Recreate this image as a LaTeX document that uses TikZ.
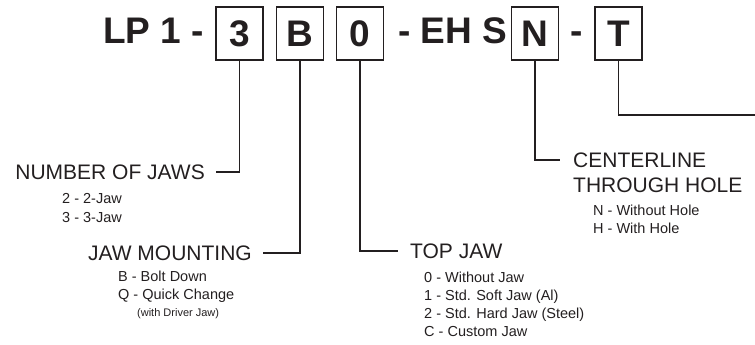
\documentclass[tikz,border=0pt]{standalone}
\usepackage{fontspec}
\setmainfont{Liberation Sans}
\usetikzlibrary{positioning}

\definecolor{ink}{HTML}{231F20}

\tikzset{
  codetext/.style={inner sep=0pt, text=ink, font=\fontsize{37}{40}\selectfont\bfseries},
  codebox/.style={codetext, draw=ink, line width=1.4pt, minimum width=47pt, minimum height=53pt},
  heading/.style={inner sep=0pt, text=ink, font=\fontsize{21}{25}\selectfont},
  option/.style={inner sep=0pt, anchor=base west, text=ink, font=\fontsize{14.5}{17}\selectfont},
  note/.style={option, font=\fontsize{11}{13}\selectfont},
  leader/.style={draw=ink, line width=1.8pt}
}

\begin{document}
\begin{tikzpicture}[x=1pt, y=-1pt]

    \useasboundingbox (0,0) rectangle (755,345);

    \node[codetext, anchor=base west] (lp) at (103,44) {LP 1 -};
    \node[codebox] (b3) at (239.5,33.5) {3};
    \node[codebox] (bB) at (300,33.5) {B};
    \node[codebox] (b0) at (360,33.5) {0};
    \node[codetext, anchor=base west] (ehs) at (398,44) {- EH S};
    \node[codebox] (bN) at (535,33.5) {N};
    \node[codetext, anchor=base] (dash) at (577,44) {-};
    \node[codebox] (bT) at (618.5,33.5) {T};

    \node[heading, anchor=east] (jaws) at (205,172) {NUMBER OF JAWS};
    \node[heading, anchor=east] (mount) at (252,253) {JAW MOUNTING};
    \node[heading, anchor=west] (top) at (410,251) {TOP JAW};
    \node[heading, anchor=west] (cline) at (573,160) {CENTERLINE};
    \node[heading, anchor=west] (thru) at (573,185) {THROUGH HOLE};
    \coordinate (edge) at (755,115);

    \draw[leader] (b3.south) |- ([xshift=11pt]jaws.east);
    \draw[leader] (bB.south) |- ([xshift=11pt]mount.east);
    \draw[leader] (b0.south) |- ([xshift=-12pt]top.west);
    \draw[leader] (bN.south) |- ([xshift=-13pt]cline.west);
    \draw[leader] (bT.south) |- (edge);

    \node[option] (j2) at (62,203) {2 - 2-Jaw};
    \node[option] (j3) at (62,222) {3 - 3-Jaw};

    \node[option] (mb) at (118,281) {B - Bolt Down};
    \node[option] (mq) at (118,299) {Q - Quick Change};
    \node[note] (md) at (137,316) {(with Driver Jaw)};

    \node[option] (t0) at (424,282) {0 - Without Jaw};
    \node[option] (t1) at (424,300) {1 - Std. Soft Jaw (Al)};
    \node[option] (t2) at (424,318) {2 - Std. Hard Jaw (Steel)};
    \node[option] (tc) at (424,336) {C - Custom Jaw};

    \node[option] (hn) at (593,215) {N - Without Hole};
    \node[option] (hh) at (593,233) {H - With Hole};

\end{tikzpicture}
\end{document}
